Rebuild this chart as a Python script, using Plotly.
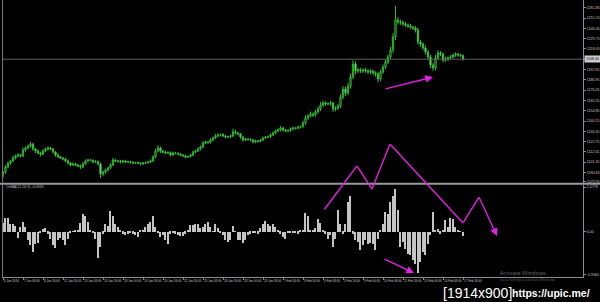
import plotly.graph_objects as go

# ---------------- data (H4 bars, XAUUSD-like) ----------------
first_open = 1088.0
closes = [
    1091.1, 1096.3, 1100.5, 1102.6, 1105.7, 1107.8, 1108.8, 1107.8, 1114.0, 1116.1,
    1118.2, 1120.2, 1115.0, 1112.9, 1110.9, 1109.5, 1112.9, 1115.0, 1116.1, 1115.0,
    1111.9, 1108.8, 1106.7, 1105.7, 1104.6, 1102.6, 1100.5, 1098.4, 1099.4, 1098.4,
    1097.4, 1096.3, 1099.4, 1102.6, 1103.6, 1103.2, 1101.5, 1101.9, 1099.4, 1089.0,
    1091.1, 1093.2, 1095.3, 1098.4, 1103.6, 1102.6, 1102.2, 1101.5, 1102.6, 1101.5,
    1101.8, 1101.2, 1100.5, 1100.9, 1100.2, 1099.4, 1100.5, 1100.8, 1101.5, 1102.6,
    1106.7, 1112.9, 1116.1, 1112.9, 1111.9, 1110.9, 1111.3, 1108.8, 1110.9, 1110.5,
    1109.8, 1108.8, 1107.8, 1106.7, 1107.1, 1108.8, 1111.9, 1112.9, 1115.0, 1117.1,
    1121.3, 1122.3, 1121.9, 1124.4, 1126.5, 1128.6, 1129.6, 1130.0, 1128.6, 1127.5,
    1127.9, 1128.6, 1132.7, 1131.7, 1130.6, 1127.5, 1124.4, 1125.4, 1125.0, 1124.4,
    1122.3, 1123.4, 1123.0, 1124.4, 1126.5, 1127.5, 1127.9, 1129.6, 1131.7, 1133.8,
    1134.8, 1136.9, 1134.8, 1133.8, 1134.2, 1135.8, 1136.9, 1136.5, 1137.9, 1138.3,
    1142.1, 1147.3, 1149.4, 1151.4, 1150.4, 1153.5, 1156.6, 1160.8, 1162.9, 1161.8,
    1162.2, 1162.9, 1156.6, 1157.7, 1159.8, 1169.1, 1177.4, 1173.3, 1180.6, 1189.9,
    1203.4, 1196.2, 1197.2, 1196.2, 1197.2, 1196.2, 1195.1, 1196.2, 1194.1, 1193.0,
    1187.8, 1195.1, 1200.3, 1205.5, 1210.7, 1218.0, 1231.5, 1249.2, 1247.1, 1246.5,
    1245.0, 1244.0, 1243.0, 1241.9, 1240.9, 1238.8, 1226.3, 1224.2, 1220.1, 1215.9,
    1210.7, 1202.4, 1199.3, 1209.7, 1214.9, 1213.8, 1207.6, 1208.6, 1209.7, 1210.7,
    1212.8, 1213.8, 1212.8, 1212.3, 1208.4,
]
wick_up = [
    1.2, 2.0, 1.5, 1.0, 2.2, 1.4, 1.8, 1.1, 2.5, 1.3, 1.6, 2.4, 1.2, 1.0, 1.7, 1.3, 2.1, 1.5, 1.8, 1.2,
    1.4, 1.0, 1.6, 1.2, 0.9, 1.3, 1.5, 1.1, 1.8, 1.0, 1.2, 1.4, 2.0, 1.6, 1.1, 1.3, 1.0, 1.5, 1.2, 1.8,
    1.3, 1.5, 1.1, 1.9, 2.2, 1.2, 1.0, 1.4, 1.3, 0.9, 1.1, 1.0, 1.2, 0.8, 1.1, 1.0, 1.3, 0.9, 1.2, 1.5,
    2.0, 2.3, 3.2, 1.5, 1.2, 1.0, 1.4, 1.1, 1.3, 0.9, 1.2, 1.0, 1.1, 1.3, 0.9, 1.2, 1.6, 1.4, 1.8, 1.5,
    2.1, 1.6, 1.2, 1.9, 1.7, 2.0, 1.4, 1.1, 1.5, 1.2, 1.0, 1.6, 3.5, 2.2, 1.4, 1.2, 1.5, 1.1, 1.3, 1.0,
    1.2, 1.4, 1.0, 1.3, 1.6, 1.2, 1.1, 1.5, 1.8, 1.4, 1.6, 2.0, 1.3, 1.1, 1.2, 1.5, 1.4, 1.0, 1.3, 1.2,
    2.4, 2.8, 2.0, 2.6, 1.8, 2.2, 2.5, 3.0, 2.4, 1.8, 1.6, 2.0, 1.5, 1.8, 2.2, 3.0, 3.2, 2.5, 3.0, 3.4,
    3.8, 2.6, 2.2, 2.0, 1.8, 2.4, 1.9, 2.0, 1.6, 1.8, 2.2, 2.4, 2.8, 3.0, 2.6, 3.4, 4.0, 14.6, 3.0, 2.4,
    2.2, 2.0, 1.8, 2.1, 1.6, 2.0, 2.4, 2.2, 1.8, 2.6, 2.0, 2.4, 2.2, 3.2, 2.8, 2.0, 1.8, 2.2, 1.6, 1.9,
    1.5, 1.8, 1.4, 1.6, 1.2,
]
wick_dn = [
    3.0, 1.8, 1.5, 2.0, 1.2, 1.6, 1.1, 1.4, 1.3, 1.7, 1.2, 1.5, 1.8, 2.0, 1.4, 2.2, 1.1, 1.3, 1.5, 1.2,
    1.6, 1.8, 1.3, 1.1, 1.5, 1.2, 1.7, 1.4, 1.0, 1.3, 1.5, 1.9, 1.2, 1.0, 1.3, 1.1, 1.4, 1.2, 1.6, 4.2,
    2.4, 1.8, 1.5, 1.2, 1.3, 1.0, 1.2, 1.4, 0.9, 1.1, 1.0, 1.3, 1.2, 1.0, 0.9, 1.4, 1.1, 1.0, 1.2, 1.0,
    1.2, 1.5, 1.4, 2.2, 1.6, 1.3, 1.2, 1.5, 1.1, 1.3, 1.0, 1.4, 1.2, 1.5, 1.1, 1.0, 1.3, 1.2, 1.1, 1.4,
    1.5, 1.3, 1.6, 1.2, 1.4, 1.1, 1.3, 1.5, 1.2, 1.6, 1.1, 1.4, 1.2, 1.8, 1.5, 2.0, 1.6, 1.2, 1.4, 1.3,
    1.5, 1.2, 1.4, 1.1, 1.3, 1.0, 1.2, 1.4, 1.1, 1.3, 1.2, 1.5, 1.8, 1.4, 1.2, 1.1, 1.3, 1.2, 1.0, 1.4,
    1.6, 1.8, 2.0, 1.5, 2.2, 1.7, 1.8, 2.0, 2.2, 1.9, 1.6, 2.0, 3.0, 2.4, 2.0, 2.2, 2.6, 3.2, 2.4, 2.8,
    2.4, 3.6, 2.2, 2.0, 2.4, 1.8, 2.2, 2.0, 2.4, 2.6, 3.4, 2.2, 2.0, 2.4, 2.2, 2.6, 3.0, 3.2, 2.6, 2.4,
    2.2, 2.0, 2.4, 2.0, 2.2, 2.6, 3.0, 2.8, 2.4, 2.6, 3.0, 3.2, 3.1, 2.4, 2.0, 2.2, 2.6, 2.0, 2.2, 1.8,
    1.6, 2.0, 1.8, 1.6, 1.5,
]
osma = [
    0.208, 0.323, 0.323, 0.185, 0.185, 0.139, -0.139, 0.116, 0.231, 0.116,
    -0.185, -0.300, -0.462, -0.277, -0.254, -0.023, 0.069, 0.092, -0.046, -0.162,
    -0.300, -0.370, -0.185, -0.139, -0.185, -0.300, -0.162, -0.023, 0.012, 0.023,
    0.046, 0.208, 0.416, 0.370, 0.231, 0.046, -0.023, -0.162, -0.601, -0.347,
    -0.046, 0.185, 0.139, 0.485, 0.370, 0.185, 0.116, 0.046, -0.046, -0.069,
    -0.046, -0.023, -0.046, -0.069, -0.116, 0.023, 0.046, 0.116, 0.185, 0.231,
    0.370, 0.116, -0.023, -0.116, -0.069, -0.185, -0.277, -0.046, -0.008, -0.046,
    -0.069, -0.092, -0.092, -0.046, 0.023, 0.162, 0.162, 0.185, 0.185, 0.092,
    0.116, 0.185, 0.231, 0.116, 0.008, 0.185, 0.092, -0.023, -0.069, -0.185,
    -0.231, -0.185, 0.139, 0.008, -0.185, -0.185, -0.254, -0.185, -0.069, -0.046,
    -0.023, -0.008, -0.046, 0.092, 0.185, 0.254, 0.185, 0.139, 0.185, 0.116,
    0.023, -0.046, -0.116, -0.162, -0.023, -0.008, -0.023, -0.023, -0.046,
    0.023, 0.046, 0.439, 0.370, 0.046, 0.023, 0.092, 0.300, 0.208, 0.046,
    -0.046, -0.162, -0.069, -0.347, -0.162, 0.508, 0.185, -0.046, 0.185, 0.693,
    0.832, -0.046, -0.185, -0.231, -0.416, -0.300, -0.185, -0.277, -0.254, -0.277,
    -0.416, -0.162, 0.023, 0.185, 0.462, 0.416, 0.693, 0.832, 0.993, 0.508,
    -0.347, -0.231, -0.393, -0.508, -0.531, -0.647, -0.739, -0.947, -0.693, -0.462,
    -0.531, -0.277, -0.069, 0.462, 0.046, 0.069, -0.046, 0.023, 0.277, 0.116,
    0.323, 0.300, 0.116, 0.046, 0.008, -0.092,
]
time_tick_bars = [0, 8, 16, 24, 32, 40, 48, 56, 64, 72, 80, 88, 96, 104, 112, 120,
                  128, 136, 144, 152, 160, 168, 176, 184]
time_tick_labels = ["6 Jan 2016", "7 Jan 08:00", "8 Jan 16:00", "12 Jan 00:00", "13 Jan 08:00",
                    "14 Jan 16:00", "18 Jan 00:00", "19 Jan 08:00", "20 Jan 16:00", "22 Jan 00:00",
                    "25 Jan 08:00", "26 Jan 16:00", "28 Jan 00:00", "29 Jan 08:00", "1 Feb 16:00",
                    "3 Feb 00:00", "4 Feb 08:00", "5 Feb 16:00", "9 Feb 00:00", "10 Feb 08:00",
                    "11 Feb 16:00", "15 Feb 00:00", "16 Feb 08:00", "17 Feb 16:00"]
price_ticks = [1261.85, 1251.15, 1240.45, 1229.75, 1219.05, 1208.35, 1197.65, 1186.95, 1176.25,
               1165.55, 1154.85, 1144.15, 1133.45, 1122.75, 1112.05, 1101.35, 1090.65, 1081.45]
osma_ticks = [1.03, 0.0, -0.996]
osma_tick_labels = ["1.0778", "0.00", "-0.9960"]

# user-drawn objects (bar index, value)
price_arrow = dict(x0=152.8, y0=1177.4, x1=172.0, y1=1189.9)
zigzag_upper_x = [128.4, 141.6, 147.6, 154.8, 184.0]
zigzag_upper_y = [1051.6, 1097.4, 1073.4, 1120.2, 1038.1]
zigzag_lower_x = [184.0, 190.4, 197.6]
zigzag_lower_y = [0.201, 0.801, -0.099]
osma_arrow = dict(x0=152.4, y0=-0.630, x1=164.4, y1=-0.953)

n = len(closes)
assert len(wick_up) == n and len(wick_dn) == n and len(osma) == n, (len(wick_up), len(wick_dn), len(osma), n)
bars = list(range(n))
opens = [first_open] + closes[:-1]
highs = [max(o, c) + w for o, c, w in zip(opens, closes, wick_up)]
lows = [min(o, c) - w for o, c, w in zip(opens, closes, wick_dn)]

GREEN = "#2dbd2d"
MAG = "#e41ee4"
AX = "#8a8a8a"
TXT = "#c8c8c8"
FONT = "Liberation Sans"

fig = go.Figure()
fig.add_trace(go.Candlestick(
    x=bars, open=opens, high=highs, low=lows, close=closes,
    increasing=dict(line=dict(color=GREEN, width=1), fillcolor="black"),
    decreasing=dict(line=dict(color=GREEN, width=1), fillcolor="#e2ffe2"),
    whiskerwidth=0, xaxis="x", yaxis="y", hoverinfo="skip",
))
fig.add_trace(go.Bar(
    x=bars, y=osma, width=0.45, marker=dict(color="#c4c4c4", line=dict(width=0)),
    xaxis="x2", yaxis="y2", hoverinfo="skip",
))

x_range = [-0.4, 232]
axis_common = dict(showgrid=False, zeroline=False)
fig.update_layout(
    width=600, height=302,
    margin=dict(l=2, r=17, t=0, b=25),
    paper_bgcolor="black", plot_bgcolor="black",
    showlegend=False,
    font=dict(family=FONT, color=TXT, size=4),
    xaxis=dict(domain=[0, 1], range=x_range, anchor="y", showticklabels=False,
               rangeslider=dict(visible=False), showline=False, **axis_common),
    xaxis2=dict(domain=[0, 1], range=x_range, matches="x", anchor="y2",
                tickmode="array", tickvals=time_tick_bars, ticktext=time_tick_labels,
                ticks="outside", ticklen=2, tickcolor=AX, tickwidth=1, tickangle=0,
                ticklabelposition="outside right",
                tickfont=dict(size=3.0, color=TXT, family=FONT),
                showline=True, linecolor=AX, linewidth=1, **axis_common),
    yaxis=dict(domain=[0.3394, 1], range=[1079.68, 1270], side="right", anchor="x",
               tickmode="array", tickvals=price_ticks,
               ticktext=[f"{v:.2f}" for v in price_ticks[:-1]] + ["1079.95"],
               ticks="outside", ticklen=2, tickcolor=AX,
               tickfont=dict(size=3.6, color=TXT, family=FONT),
               showline=True, linecolor=AX, linewidth=1, **axis_common),
    yaxis2=dict(domain=[0, 0.3321], range=[-1.046, 1.078], side="right", anchor="x2",
                tickmode="array", tickvals=osma_ticks, ticktext=osma_tick_labels,
                ticks="outside", ticklen=2, tickcolor=AX,
                tickfont=dict(size=3.6, color=TXT, family=FONT),
                showline=True, linecolor=AX, linewidth=1, **axis_common),
    bargap=0,
)

shapes = [
    # bid line
    dict(type="line", xref="paper", yref="y", x0=0, x1=1, y0=closes[-1], y1=closes[-1],
         line=dict(color="#5e5e5e", width=1)),
    # panel separator
    dict(type="line", xref="paper", yref="paper", x0=-0.004, x1=1.03, y0=0.3366, y1=0.3366,
         line=dict(color="#9a9a9a", width=2)),
    # left frame
    dict(type="line", xref="paper", yref="paper", x0=0.001, x1=0.001, y0=0, y1=1,
         line=dict(color="#7a7a7a", width=1)),
]
fig.update_layout(shapes=shapes)

ann = []
def seg(x0, y0, x1, y1, xr, yr, head=0):
    ann.append(dict(x=x1, y=y1, ax=x0, ay=y0, xref=xr, yref=yr, axref=xr, ayref=yr,
                    text="", showarrow=True, arrowhead=head, arrowsize=1.1, arrowwidth=1.4,
                    arrowcolor=MAG, standoff=0, startstandoff=0, borderpad=0,
                    font=dict(size=1)))

seg(price_arrow["x0"], price_arrow["y0"], price_arrow["x1"], price_arrow["y1"], "x", "y", head=2)
for i in range(len(zigzag_upper_x) - 1):
    seg(zigzag_upper_x[i], zigzag_upper_y[i], zigzag_upper_x[i + 1], zigzag_upper_y[i + 1], "x", "y")
for i in range(len(zigzag_lower_x) - 1):
    last = i == len(zigzag_lower_x) - 2
    seg(zigzag_lower_x[i], zigzag_lower_y[i], zigzag_lower_x[i + 1], zigzag_lower_y[i + 1],
        "x2", "y2", head=2 if last else 0)
seg(osma_arrow["x0"], osma_arrow["y0"], osma_arrow["x1"], osma_arrow["y1"], "x2", "y2", head=2)

# bid price box
ann.append(dict(xref="paper", yref="y", x=1, y=closes[-1], xanchor="left", yanchor="middle",
                xshift=1, text=f"{closes[-1]:.2f}", showarrow=False, bgcolor="#cfcfcf",
                font=dict(size=3.6, color="black", family=FONT), borderpad=1))
# indicator caption
ann.append(dict(xref="paper", yref="paper", x=0.004, y=0.326, xanchor="left", yanchor="middle",
                text=f"OsMA(12,26,9) {osma[-1]:.4f}", showarrow=False,
                font=dict(size=3.6, color=TXT, family=FONT)))
# windows watermark
ann.append(dict(xref="paper", yref="paper", x=0.853, y=0.016, xanchor="left", yanchor="middle",
                text="Activate Windows", showarrow=False,
                font=dict(size=5.6, color="#6e6e6e", family="Open Sans")))
ann.append(dict(xref="paper", yref="paper", x=0.853, y=-0.008, xanchor="left", yanchor="middle",
                text="Go to Settings to activate Windows.", showarrow=False,
                font=dict(size=3.4, color="#636363", family="Open Sans")))
# image host stamp
ann.append(dict(xref="paper", yref="paper", x=0.756, y=-0.056, xanchor="left", yanchor="middle",
                text="[1914x900]", showarrow=False,
                font=dict(size=14, color="white", family="Liberation Sans")))
ann.append(dict(xref="paper", yref="paper", x=0.874, y=-0.056, xanchor="left", yanchor="middle",
                text="<b>https://upic.me/</b>", showarrow=False,
                font=dict(size=10.5, color="white", family="Liberation Sans")))
fig.update_layout(annotations=ann)

fig.write_html("out.html")
